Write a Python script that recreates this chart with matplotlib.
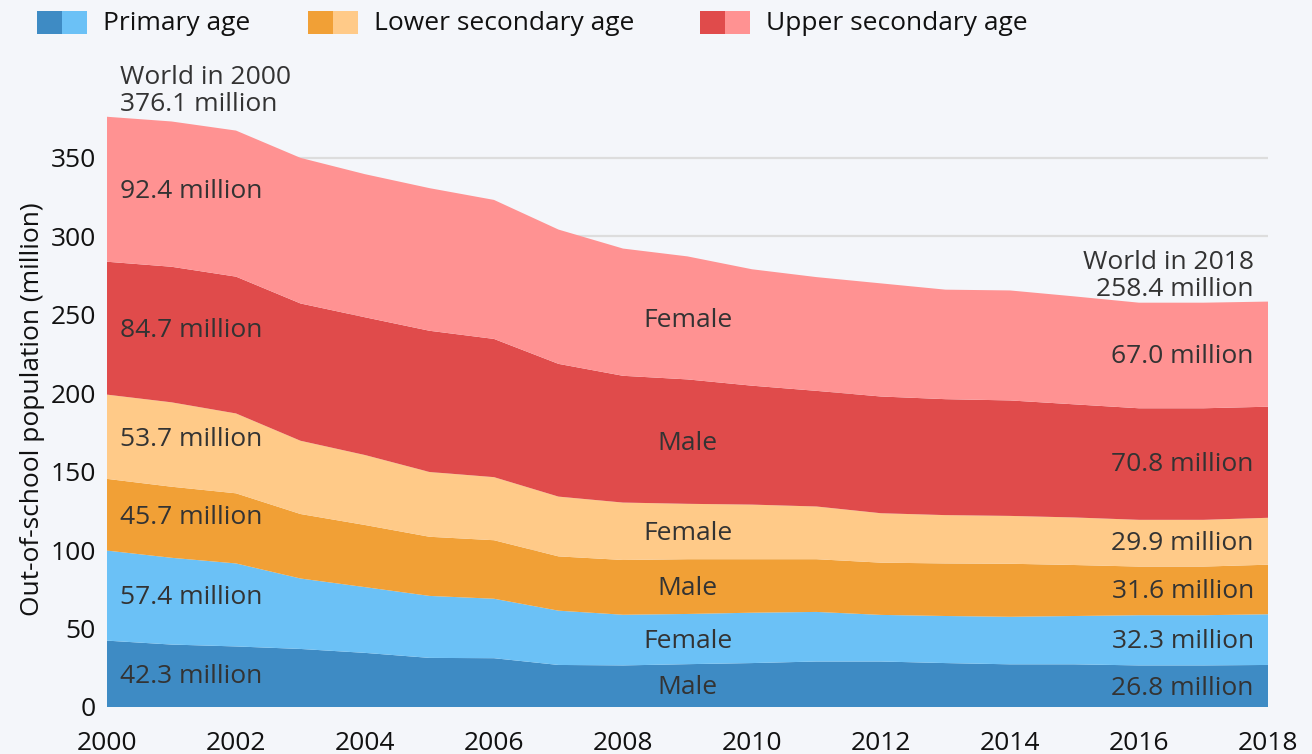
import numpy as np
import matplotlib
matplotlib.use('Agg')
import matplotlib.pyplot as plt
from matplotlib.patches import Rectangle

plt.rcParams['font.family'] = ['Open Sans', 'DejaVu Sans']

years = list(range(2000, 2019))
# out-of-school population, million
primary_male = [42.3, 39.8, 38.6, 37.0, 34.5, 31.3, 31.1, 26.8, 26.5, 27.3,
                28.0, 29.0, 29.0, 28.0, 27.2, 27.2, 26.5, 26.5, 26.8]
primary_female = [57.4, 55.3, 52.9, 44.9, 41.9, 39.5, 37.9, 34.6, 32.3, 32.0,
                  32.1, 31.6, 29.7, 30.0, 30.3, 30.8, 32.0, 32.0, 32.3]
lower_male = [45.7, 45.3, 44.7, 41.1, 39.6, 37.7, 37.3, 34.6, 34.9, 34.9,
              34.1, 33.6, 33.3, 33.5, 33.8, 32.5, 31.0, 31.0, 31.6]
lower_female = [53.7, 53.8, 50.9, 46.7, 44.6, 41.3, 40.2, 38.1, 36.6, 35.3,
                34.8, 33.6, 31.5, 30.8, 30.5, 30.3, 29.8, 29.8, 29.9]
upper_male = [84.7, 86.4, 87.2, 87.5, 87.8, 90.0, 88.1, 84.6, 80.8, 79.3,
              75.8, 73.7, 74.4, 73.9, 73.6, 72.1, 71.1, 71.1, 70.8]
upper_female = [92.4, 92.6, 93.1, 92.8, 91.2, 90.9, 88.6, 85.6, 81.1, 78.4,
                74.2, 72.5, 72.1, 69.8, 70.1, 68.8, 67.3, 67.3, 67.0]
world_2000 = 376.1
world_2018 = 258.4

series = [primary_male, primary_female, lower_male, lower_female, upper_male, upper_female]
sexes = ['Male', 'Female', 'Male', 'Female', 'Male', 'Female']
colors = ['#3e8bc4', '#6bc1f6', '#f1a036', '#ffca88', '#e04b4b', '#ff9292']
legend_labels = ['Primary age', 'Lower secondary age', 'Upper secondary age']

bg = '#f4f6fa'
txt = '#333333'
fs = 19

fig = plt.figure(figsize=(13.12, 7.54), dpi=100, facecolor=bg)
ax = fig.add_axes([107/1312, 47/754, 1161/1312, 596.2/754])
ax.set_facecolor(bg)

ax.stackplot(years, *series, colors=colors, linewidth=0, zorder=2)

ax.set_xlim(2000, 2018)
ax.set_ylim(0, 380)
ax.set_xticks(range(2000, 2019, 2))
ax.set_yticks(range(0, 351, 50))
ax.yaxis.grid(True, color='#dddddd', linewidth=1.6, zorder=0)
ax.set_axisbelow(True)
for s in ax.spines.values():
    s.set_visible(False)
ax.tick_params(length=0, labelsize=fs, colors='#111111')
ax.tick_params(axis='x', pad=17)
ax.tick_params(axis='y', pad=8)
ax.set_ylabel('Out-of-school population (million)', fontsize=fs, color='#111111', labelpad=4)

# band labels
cum = np.cumsum(np.array(series), axis=0)
lower = np.vstack([np.zeros(len(years)), cum[:-1]])
mid = (cum + lower) / 2 - 1.5
i09 = years.index(2009)
for k in range(len(series)):
    ax.text(2000.2, mid[k][0], f'{series[k][0]:.1f} million', fontsize=fs, color=txt,
            ha='left', va='center', zorder=5)
    ax.text(2017.78, mid[k][-1], f'{series[k][-1]:.1f} million', fontsize=fs, color=txt,
            ha='right', va='center', zorder=5)
    ax.text(2009, mid[k][i09], sexes[k], fontsize=fs, color=txt,
            ha='center', va='center', zorder=5)

ax.text(2000.2, world_2000 + 3.7, f'World in 2000\n{world_2000:.1f} million', fontsize=fs,
        color=txt, ha='left', va='baseline', linespacing=1.1)
ax.text(2017.78, world_2018 + 3.7, f'World in 2018\n{world_2018:.1f} million', fontsize=fs,
        color=txt, ha='right', va='baseline', linespacing=1.1)

# legend with two-tone swatches
lx = [37, 308, 700]
for j, lab in enumerate(legend_labels):
    x0 = lx[j] / 1312
    y0 = (754 - 34) / 754
    w = 25 / 1312
    h = 23 / 754
    fig.patches.append(Rectangle((x0, y0), w, h, transform=fig.transFigure,
                                 facecolor=colors[2*j], edgecolor='none'))
    fig.patches.append(Rectangle((x0 + w, y0), w, h, transform=fig.transFigure,
                                 facecolor=colors[2*j+1], edgecolor='none'))
    fig.text((lx[j] + 66) / 1312, (754 - 24) / 754, lab, fontsize=fs, color='#111111',
             ha='left', va='center')

fig.savefig('out.png', dpi=100, facecolor=bg)
